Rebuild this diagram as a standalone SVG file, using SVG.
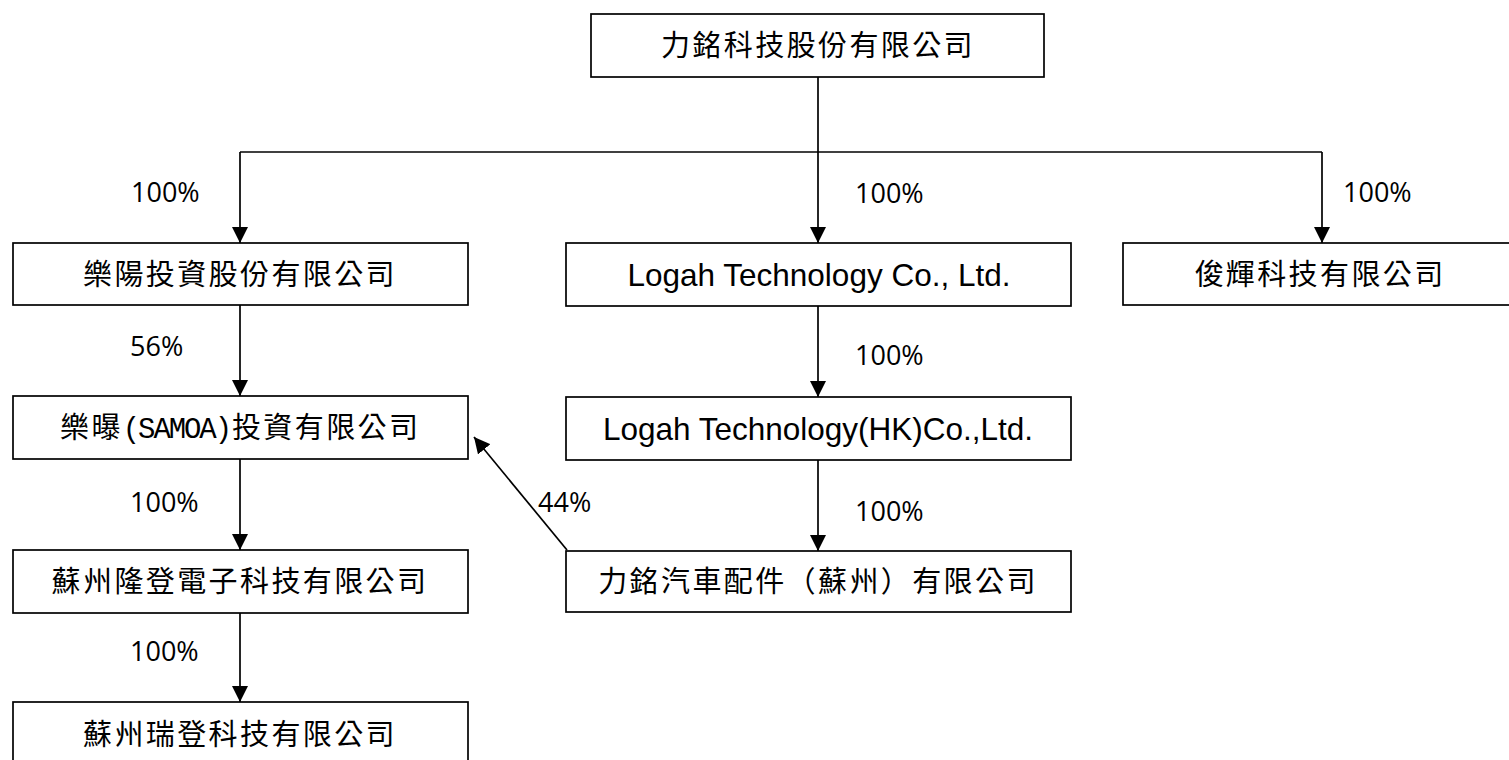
<svg xmlns="http://www.w3.org/2000/svg" width="1509" height="760" viewBox="0 0 1509 760">
<style>
.box{fill:#fff;stroke:#000;stroke-width:1.7}
.cjk{font-family:"Noto Sans CJK TC","Noto Sans CJK SC",sans-serif;font-size:29px;letter-spacing:2.4px;fill:#000;text-anchor:middle}
.lat{font-family:"Liberation Sans",Arial,sans-serif;font-size:31.5px;fill:#000;text-anchor:middle}
.pct{font-family:"Open Sans","Noto Sans",sans-serif;font-size:27px;fill:#000}
.mono{font-family:"Liberation Mono","Courier New",monospace;font-size:29px;letter-spacing:-2.1px}
.ln{fill:none;stroke:#000;stroke-width:1.7}
</style>
<defs>
<marker id="ah" markerUnits="userSpaceOnUse" markerWidth="16" markerHeight="16" viewBox="0 0 15 15" refX="15" refY="7.5" orient="auto">
<path d="M0,0 L15,7.5 L0,15 Z" fill="#000"/>
</marker>
</defs>
<rect width="1509" height="760" fill="#fff"/>
<g id="connectors">
<path class="ln" d="M818,77 V152"/>
<path class="ln" d="M240,152 H1322"/>
<path class="ln" d="M240,152 V243" marker-end="url(#ah)"/>
<path class="ln" d="M818,152 V243" marker-end="url(#ah)"/>
<path class="ln" d="M1322,152 V243" marker-end="url(#ah)"/>
<path class="ln" d="M240,305 V396" marker-end="url(#ah)"/>
<path class="ln" d="M818,306 V397" marker-end="url(#ah)"/>
<path class="ln" d="M240,459 V550" marker-end="url(#ah)"/>
<path class="ln" d="M818,460 V551" marker-end="url(#ah)"/>
<path class="ln" d="M240,613 V702" marker-end="url(#ah)"/>
<path class="ln" d="M567,550 L474,437" marker-end="url(#ah)"/>
<text class="pct" x="131" y="202">100%</text>
<text class="pct" x="855" y="203">100%</text>
<text class="pct" x="1343" y="202">100%</text>
<text class="pct" x="130" y="356">56%</text>
<text class="pct" x="855" y="365">100%</text>
<text class="pct" x="130" y="512">100%</text>
<text class="pct" x="538" y="512">44%</text>
<text class="pct" x="855" y="521">100%</text>
<text class="pct" x="130" y="661">100%</text>
</g>
<g id="n_top">
<rect class="box" x="591" y="14" width="453" height="63"/>
<text class="cjk" x="818" y="56">力銘科技股份有限公司</text>
</g>
<g id="n_leyang">
<rect class="box" x="13" y="243" width="455" height="62"/>
<text class="cjk" x="240" y="285">樂陽投資股份有限公司</text>
</g>
<g id="n_logah">
<rect class="box" x="566" y="243" width="505" height="63"/>
<text class="lat" x="819" y="286">Logah Technology Co., Ltd.</text>
</g>
<g id="n_junhui">
<rect class="box" x="1123" y="243" width="398" height="62"/>
<text class="cjk" x="1320" y="285">俊輝科技有限公司</text>
</g>
<g id="n_samoa">
<rect class="box" x="13" y="396" width="455" height="63"/>
<text class="cjk" x="60" y="438" style="text-anchor:start">樂曝<tspan class="mono">(SAMOA)</tspan><tspan dx="2">投資有限公司</tspan></text>
</g>
<g id="n_hk">
<rect class="box" x="566" y="397" width="505" height="63"/>
<text class="lat" x="818" y="440">Logah Technology(HK)Co.,Ltd.</text>
</g>
<g id="n_longdeng">
<rect class="box" x="13" y="550" width="455" height="63"/>
<text class="cjk" x="240" y="592">蘇州隆登電子科技有限公司</text>
</g>
<g id="n_auto">
<rect class="box" x="566" y="551" width="505" height="61"/>
<text class="cjk" x="818" y="592">力銘汽車配件（蘇州）有限公司</text>
</g>
<g id="n_ruideng">
<rect class="box" x="13" y="702" width="455" height="63"/>
<text class="cjk" x="240" y="745">蘇州瑞登科技有限公司</text>
</g>
</svg>
